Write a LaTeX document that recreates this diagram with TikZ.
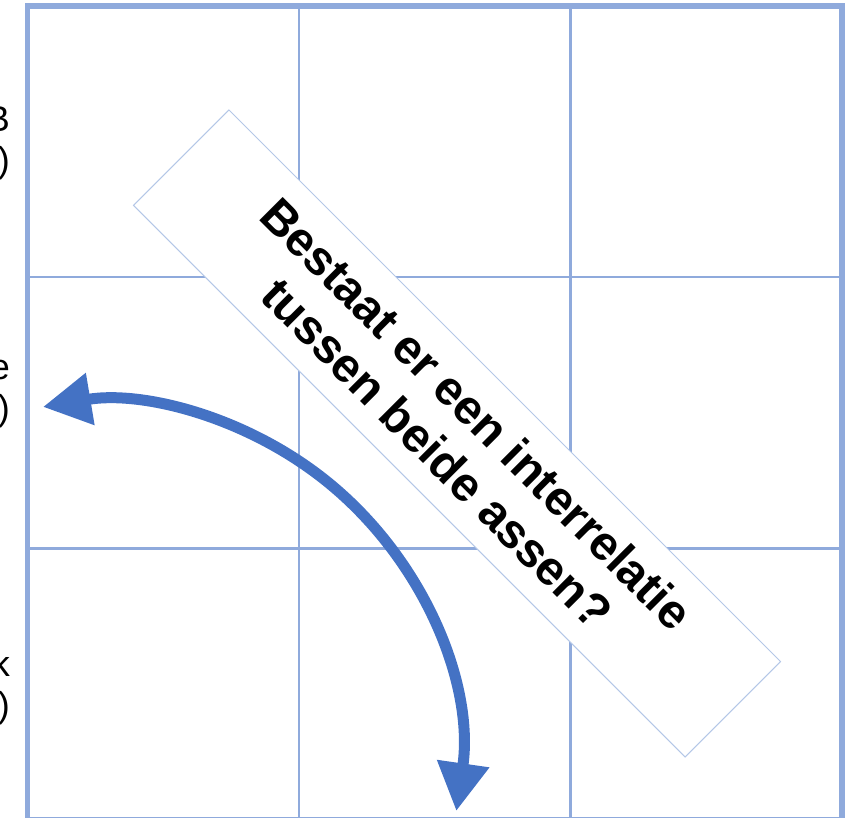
\documentclass[tikz,border=0pt]{standalone}
\usepackage{fontspec}
\setmainfont{Liberation Sans}
\usetikzlibrary{arrows.meta}
\definecolor{gridblue}{HTML}{8FAADC}
\definecolor{boxblue}{HTML}{B4C7E7}
\definecolor{arrowblue}{HTML}{4472C4}
\tikzset{
  aslabel/.style={anchor=east, align=right, inner sep=0pt, font=\fontsize{36}{41}\selectfont},
  vraagbox/.style={draw=boxblue, fill=white, line width=1pt, rotate=-45,
    minimum width=780pt, minimum height=135pt, align=center, inner sep=0pt,
    font=\bfseries\fontsize{48}{56}\selectfont}
}
\begin{document}
\begin{tikzpicture}[x=1pt,y=-1pt]
  \useasboundingbox (0,0) rectangle (846,818);
  % raster
  \foreach \k in {1,2}{
    \draw[gridblue, line width=2.5pt] (27.5+271.5*\k,5.7) -- (27.5+271.5*\k,819.5);
    \draw[gridblue, line width=2.5pt] (27.5,5.7+271.5*\k) -- (842,5.7+271.5*\k);
  }
  \draw[gridblue, line width=5.7pt] (27.5,5.7) rectangle (842,819.5);
  % vraag
  \node[vraagbox] (vraag) at (457,433.5) {Bestaat er een interrelatie\\tussen beide assen?};
  % boog
  \coordinate (boog) at (102,760);
  \draw[arrowblue, line width=11pt, {Triangle[length=48pt,width=50pt]}-{Triangle[length=48pt,width=50pt]}]
    ([shift={(8.2:358)}]boog) arc[start angle=8.2, end angle=-99.5, radius=358];
  % labels as
  \node[aslabel] (hoog) at (10,143) {B\\)};
  \node[aslabel] (midden) at (10,394) {e\\)};
  \node[aslabel] (laag) at (10,688) {k\\)};
\end{tikzpicture}
\end{document}
